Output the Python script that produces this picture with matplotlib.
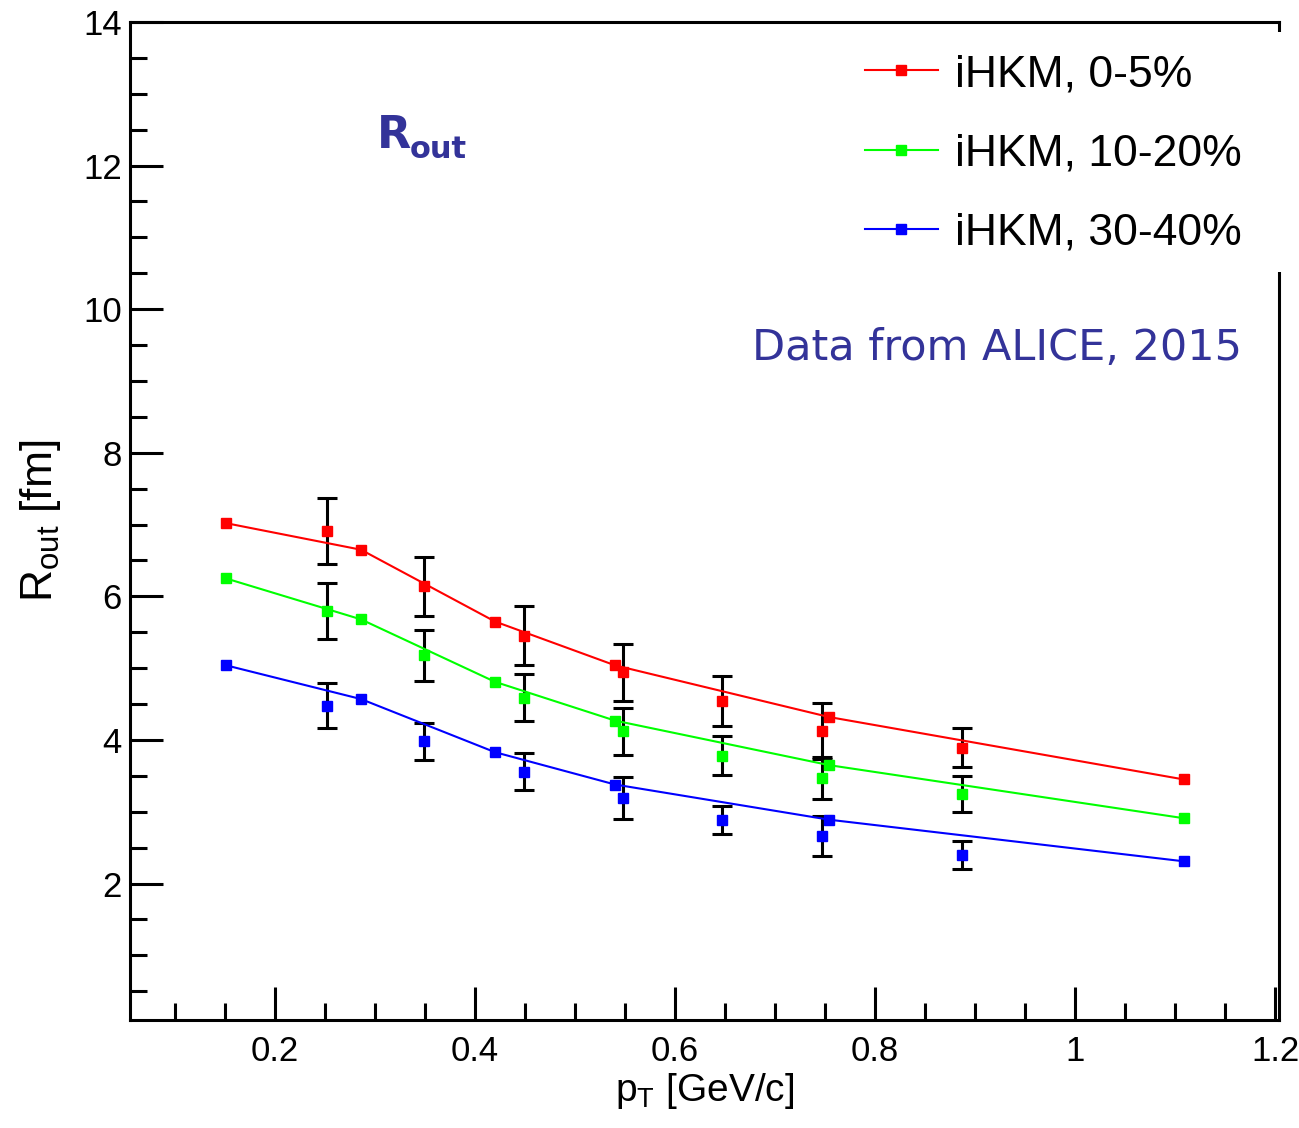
import matplotlib
matplotlib.use("Agg")
import matplotlib.pyplot as plt
from matplotlib.ticker import MultipleLocator, FuncFormatter
from matplotlib.patches import Rectangle

plt.rcParams['font.family'] = ['Liberation Sans', 'DejaVu Sans']
plt.rcParams['mathtext.fontset'] = 'custom'
plt.rcParams['mathtext.rm'] = 'Liberation Sans'
plt.rcParams['mathtext.it'] = 'Liberation Sans'

# iHKM model curves
model_pt = [0.151, 0.286, 0.420, 0.540, 0.754, 1.109]
model_05 = [7.02, 6.65, 5.65, 5.04, 4.32, 3.45]
model_1020 = [6.25, 5.68, 4.81, 4.27, 3.65, 2.91]
model_3040 = [5.04, 4.57, 3.83, 3.38, 2.89, 2.31]

# ALICE data points
data_pt = [0.252, 0.349, 0.449, 0.548, 0.647, 0.747, 0.887]
data_05 = [6.91, 6.14, 5.45, 4.94, 4.54, 4.12, 3.89]
err_05 = [0.46, 0.41, 0.41, 0.40, 0.35, 0.39, 0.27]
data_1020 = [5.80, 5.18, 4.59, 4.12, 3.78, 3.47, 3.25]
err_1020 = [0.39, 0.355, 0.33, 0.33, 0.27, 0.29, 0.255]
data_3040 = [4.48, 3.98, 3.56, 3.19, 2.89, 2.66, 2.40]
err_3040 = [0.31, 0.255, 0.255, 0.29, 0.195, 0.28, 0.20]

labels = ['iHKM, 0-5%', 'iHKM, 10-20%', 'iHKM, 30-40%']
colors = ['#ff0000', '#00ff00', '#0000ff']

W, H = 1299, 1128
fig = plt.figure(figsize=(W / 100, H / 100), dpi=100)
ax = fig.add_axes([130 / W, 1 - 1020 / H, 1149 / W, 998 / H])

models = [model_05, model_1020, model_3040]
datas = [(data_05, err_05), (data_1020, err_1020), (data_3040, err_3040)]

handles = []
for m, (d, e), c, lab in zip(models, datas, colors, labels):
    ax.errorbar(data_pt, d, yerr=e, fmt='none', ecolor='black', elinewidth=2.2,
                capsize=7, capthick=2.2, zorder=2)
    ax.plot(data_pt, d, 's', color=c, markersize=7, zorder=3)
    h, = ax.plot(model_pt, m, '-s', color=c, lw=1.5, markersize=6.5, zorder=4, label=lab)
    handles.append(h)

ax.set_xlim(0.055, 1.204)
ax.set_ylim(0.1, 14)
ax.xaxis.set_major_locator(MultipleLocator(0.2))
ax.xaxis.set_minor_locator(MultipleLocator(0.05))
ax.yaxis.set_major_locator(MultipleLocator(2))
ax.yaxis.set_minor_locator(MultipleLocator(0.5))
ax.xaxis.set_major_formatter(FuncFormatter(lambda v, p: '%g' % round(v, 3)))
ax.yaxis.set_major_formatter(FuncFormatter(lambda v, p: '%g' % round(v, 3)))

ax.tick_params(which='both', direction='in', width=2.2, color='black',
               top=False, right=False, labelsize=25)
ax.tick_params(which='major', length=24)
ax.tick_params(which='minor', length=12)
ax.tick_params(axis='y', pad=6)
ax.tick_params(axis='x', pad=11)
for s in ax.spines.values():
    s.set_linewidth(2.2)

ax.set_xlabel(r'p$_{\rm T}$ [GeV/c]', fontsize=28, labelpad=2)
ax.set_ylabel(r'R$_{\rm out}$ [fm]', fontsize=32, labelpad=14)

# white box behind legend hides part of the right frame
fig.patches.append(Rectangle((850 / W, 1 - 272 / H), 449 / W, 240 / H,
                             transform=fig.transFigure, facecolor='white',
                             edgecolor='none', zorder=2))

fig.legend(handles=handles, loc='upper left', bbox_to_anchor=(865 / W, 1 - 54 / H),
           frameon=False, fontsize=32, handlelength=1.64, handletextpad=0.38,
           labelspacing=0.86, borderaxespad=0, borderpad=0)

fig.text(377 / W, 1 - 148 / H, 'R', color='#333399', fontsize=32,
         fontweight='bold', family='DejaVu Sans', va='baseline')
fig.text(410 / W, 1 - 158 / H, 'out', color='#333399', fontsize=22,
         fontweight='bold', family='DejaVu Sans', va='baseline')
fig.text(752 / W, 1 - 360 / H, 'Data from ALICE, 2015', color='#333399',
         fontsize=31, family='DejaVu Sans', va='baseline')

fig.savefig('out.png', dpi=100)
